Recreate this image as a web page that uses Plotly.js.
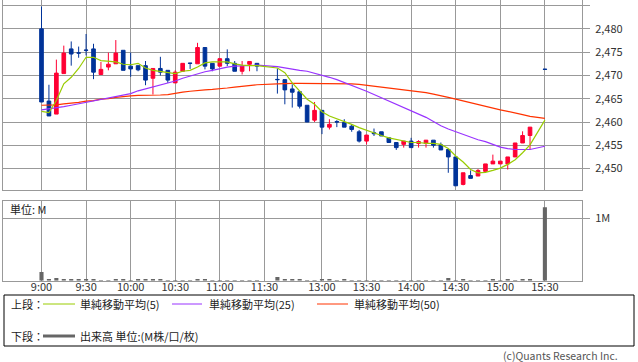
<!DOCTYPE html>
<html><head><meta charset="utf-8">
<script src="https://cdn.plot.ly/plotly-3.0.1.min.js"></script>
<style>html,body{margin:0;padding:0;background:#fff}#chart{width:638px;height:362px}</style>
</head><body><div id="chart"></div>
<script>
// ---- data ----
const times = ["9:00","9:05","9:10","9:15","9:20","9:25","9:30","9:35","9:40","9:45","9:50","9:55",
"10:00","10:05","10:10","10:15","10:20","10:25","10:30","10:35","10:40","10:45","10:50","10:55",
"11:00","11:05","11:10","11:15","11:20","11:25",
"12:30","12:35","12:40","12:45","12:50","12:55","13:00","13:05","13:10","13:15","13:20","13:25",
"13:30","13:35","13:40","13:45","13:50","13:55","14:00","14:05","14:10","14:15","14:20","14:25",
"14:30","14:35","14:40","14:45","14:50","14:55","15:00","15:05","15:10","15:15","15:20","15:30"];
const opens = [2480.0,2464.5,2461.7,2470.4,2475.7,2474.85,2475.45,2475.7,2470.2,2471.8,2472.5,2475.4,
2472.0,2472.1,2472.1,2469.4,2471.5,2471.1,2468.4,2470.9,2472.65,2472.5,2476.0,2472.6,
2472.0,2473.6,2472.6,2470.9,2472.4,2472.6,
2469.15,2469.1,2467.1,2466.5,2463.6,2460.4,2462.5,2458.9,2460.1,2459.9,2459.1,2457.9,
2455.9,2457.7,2457.9,2456.6,2455.6,2455.2,2455.9,2455.4,2455.4,2456.1,2455.1,2454.1,
2452.5,2446.6,2448.5,2448.4,2449.4,2451.0,2451.0,2451.0,2452.5,2455.5,2457.1,2471.35];
const highs = [2484.8,2468.0,2473.4,2476.4,2477.3,2476.2,2478.9,2476.8,2472.9,2474.9,2477.6,2475.4,
2474.9,2472.1,2473.1,2471.5,2474.0,2471.1,2471.1,2472.6,2472.65,2477.0,2476.0,2472.6,
2473.6,2475.6,2473.1,2473.1,2473.0,2472.6,
2471.5,2469.1,2468.1,2466.5,2463.6,2464.3,2462.5,2460.6,2460.4,2460.6,2459.5,2458.3,
2457.2,2458.6,2457.9,2456.6,2455.6,2455.9,2456.6,2456.1,2456.1,2456.1,2455.6,2454.1,
2452.5,2449.1,2449.6,2449.9,2451.0,2453.0,2451.6,2452.5,2455.5,2458.0,2458.9,2471.35];
const lows = [2464.3,2461.3,2461.7,2470.4,2472.1,2473.8,2474.3,2469.2,2470.2,2471.1,2472.5,2471.1,
2469.7,2470.9,2467.9,2465.9,2470.0,2468.4,2468.4,2470.9,2471.4,2472.5,2471.3,2470.9,
2472.0,2472.0,2470.9,2470.2,2470.9,2470.9,
2466.1,2463.8,2463.1,2462.9,2460.0,2460.0,2457.4,2458.4,2458.9,2458.9,2457.9,2455.6,
2455.2,2457.0,2457.0,2455.6,2454.0,2454.5,2454.5,2454.5,2454.5,2454.5,2454.0,2449.1,
2446.3,2446.4,2447.9,2448.4,2449.4,2451.0,2451.0,2449.8,2452.5,2455.5,2454.1,2471.3];
const closes = [2464.3,2461.3,2470.5,2474.8,2474.6,2474.8,2475.4,2470.7,2471.3,2472.4,2474.8,2471.1,
2471.4,2471.2,2469.0,2471.5,2470.7,2469.0,2470.7,2472.6,2472.6,2476.0,2472.0,2471.4,
2473.6,2472.6,2470.9,2472.0,2473.0,2472.0,
2469.1,2466.9,2466.4,2463.4,2460.0,2462.5,2458.9,2459.5,2460.0,2458.9,2458.4,2455.9,
2457.2,2457.5,2457.0,2455.6,2454.5,2455.9,2454.5,2455.8,2456.1,2455.0,2454.0,2452.5,
2446.3,2449.1,2447.9,2449.6,2451.0,2451.6,2451.6,2452.5,2455.5,2457.1,2458.9,2471.3];
const ma5 = [2462.3,2462.0,2464.6,2468.2,2469.6,2471.5,2473.9,2473.9,2473.2,2473.1,2472.9,2472.4,
2472.3,2472.6,2471.6,2471.1,2470.9,2470.6,2470.4,2470.9,2471.1,2471.8,2472.7,2472.9,
2472.9,2472.9,2472.5,2472.2,2472.1,2472.1,
2471.6,2470.6,2468.4,2466.6,2464.9,2463.8,2462.2,2461.3,2460.7,2460.2,2459.5,2458.8,
2458.2,2457.7,2457.1,2456.6,2456.3,2455.9,2455.6,2455.6,2455.4,2455.4,2455.2,2454.3,
2452.7,2451.4,2449.8,2449.1,2449.2,2449.6,2450.1,2450.9,2451.9,2453.4,2455.1,2460.4];
const ma25 = [2462.6,2462.8,2463.0,2463.3,2463.6,2463.9,2464.2,2464.5,2464.8,2465.1,2465.4,2465.7,
2466.1,2466.7,2467.1,2467.5,2467.9,2468.4,2468.8,2469.4,2469.9,2470.4,2470.8,2471.1,
2471.5,2471.8,2472.0,2472.1,2472.2,2472.2,
2471.9,2471.6,2471.4,2471.1,2470.9,2470.5,2470.0,2469.6,2469.1,2468.5,2467.9,2467.2,
2466.6,2465.9,2465.2,2464.6,2463.9,2463.2,2462.5,2461.8,2461.0,2460.1,2459.2,2458.5,
2457.9,2457.3,2456.8,2456.2,2455.8,2455.2,2454.6,2454.3,2454.1,2454.1,2454.1,2454.8];
const ma50 = [2463.6,2463.6,2463.7,2463.9,2464.0,2464.2,2464.5,2464.6,2464.9,2465.0,2465.3,2465.5,
2465.6,2465.7,2465.7,2465.8,2465.8,2465.9,2466.2,2466.4,2466.6,2466.8,2466.9,2467.0,
2467.1,2467.3,2467.5,2467.7,2467.8,2468.0,
2468.2,2468.3,2468.3,2468.3,2468.3,2468.3,2468.3,2468.3,2468.3,2468.3,2468.2,2468.1,
2467.9,2467.8,2467.6,2467.4,2467.2,2467.0,2466.8,2466.6,2466.3,2466.0,2465.7,2465.3,
2464.9,2464.5,2464.1,2463.7,2463.4,2463.0,2462.6,2462.3,2462.0,2461.6,2461.2,2460.8];
const volumes = [0.139,0.027,0.043,0.027,0.027,0.027,0.027,0.027,0.012,0.012,0.027,0.027,
0.012,0.027,0.027,0.027,0.027,0.012,0.012,0.012,0.012,0.027,0.027,0.012,
0.012,0.012,0.012,0.012,0.012,0.012,
0.059,0.027,0.027,0.027,0.012,0.012,0.027,0.027,0.012,0.027,0.012,0.012,
0.012,0.012,0.012,0.012,0.012,0.012,0.012,0.012,0.012,0.012,0.012,0.043,
0.012,0.027,0.012,0.012,0.012,0.027,0.012,0.027,0.012,0.027,0.027,1.176];
const timeTicks = ["9:00","9:30","10:00","10:30","11:00","11:30","13:00","13:30","14:00","14:30","15:00","15:30"];
const priceTicks = [2450,2455,2460,2465,2470,2475,2480,2485];
const volTicks = [1];
const volTickLabels = ["1M"];
const legendLabels = ["単純移動平均(5)","単純移動平均(25)","単純移動平均(50)"];
const volLabel = "出来高 単位:(M株/口/枚)";

// ---- time -> slot position (lunch break compressed) ----
function slot(t){
  const p = t.split(':').map(Number);
  const m = (p[0]-9)*60 + p[1];
  return m <= 150 ? m/5 : m/5 - 10.25;
}
const xs = times.map(slot);
const tickPos = timeTicks.map(slot);

const W = 638, H = 362;
const fx = v => v / W, fy = v => 1 - v / H;
const FONT = "Noto Sans CJK JP, Liberation Sans, sans-serif";
const GRID = "#999999";
const C5 = "#99cc00", C25 = "#9933ff", C50 = "#ff3300";
const xr = [(3-41.5)/7.43, (582-41.5)/7.43];

const traces = [
  {type:'candlestick', x:xs, open:opens, high:highs, low:lows, close:closes,
   xaxis:'x', yaxis:'y', whiskerwidth:0, hoverinfo:'skip', showlegend:false,
   increasing:{line:{color:'#ff0033', width:1}, fillcolor:'#ff0033'},
   decreasing:{line:{color:'#003399', width:1}, fillcolor:'#003399'}},
  {type:'scatter', mode:'lines', x:xs, y:ma50, xaxis:'x', yaxis:'y', line:{color:C50, width:1.2}, showlegend:false, hoverinfo:'skip'},
  {type:'scatter', mode:'lines', x:xs, y:ma25, xaxis:'x', yaxis:'y', line:{color:C25, width:1.2}, showlegend:false, hoverinfo:'skip'},
  {type:'scatter', mode:'lines', x:xs, y:ma5, xaxis:'x', yaxis:'y', line:{color:C5, width:1.2}, showlegend:false, hoverinfo:'skip'},
  {type:'bar', x:xs, y:volumes, xaxis:'x2', yaxis:'y2', width:0.55, marker:{color:'#666666', line:{width:0}}, showlegend:false, hoverinfo:'skip'}
];

const axCommon = {showgrid:true, gridcolor:GRID, gridwidth:1, zeroline:false, showline:true, linecolor:GRID, linewidth:1, mirror:true};
const tickFont = {family:FONT, size:11, color:'#333'};

const layout = {
  width:W, height:H, margin:{l:0,r:0,t:0,b:0}, paper_bgcolor:'#fff', plot_bgcolor:'#fff',
  showlegend:false, font:{family:FONT, size:11, color:'#333'},
  xaxis: Object.assign({}, axCommon, {domain:[fx(3), fx(582)], range:xr, anchor:'y', tickvals:tickPos, showticklabels:false, ticks:'', rangeslider:{visible:false}}),
  yaxis: Object.assign({}, axCommon, {domain:[fy(190), 1], range:[2445.4, 2486.2], anchor:'x', side:'right', tickvals:priceTicks, tickformat:',d', ticks:'outside', ticklen:7, tickcolor:GRID, ticklabelstandoff:3, tickfont:tickFont}),
  xaxis2: Object.assign({}, axCommon, {domain:[fx(3), fx(582)], range:xr, anchor:'y2', tickvals:tickPos, ticktext:timeTicks, ticks:'', ticklabelstandoff:-4, tickfont:tickFont, rangeslider:{visible:false}}),
  yaxis2: Object.assign({}, axCommon, {domain:[fy(280.7), fy(201)], range:[0, 1.277], anchor:'x2', side:'right', tickvals:volTicks, ticktext:volTickLabels, ticks:'outside', ticklen:7, tickcolor:GRID, ticklabelstandoff:3, tickfont:tickFont}),
  shapes: [
    {type:'rect', xref:'paper', yref:'paper', x0:fx(4), x1:fx(634), y0:fy(295), y1:fy(346), line:{color:'#000', width:1}},
    {type:'line', xref:'paper', yref:'paper', x0:fx(43), x1:fx(75), y0:fy(304), y1:fy(304), line:{color:C5, width:1}},
    {type:'line', xref:'paper', yref:'paper', x0:fx(172), x1:fx(202), y0:fy(304), y1:fy(304), line:{color:C25, width:1}},
    {type:'line', xref:'paper', yref:'paper', x0:fx(317), x1:fx(348), y0:fy(304), y1:fy(304), line:{color:C50, width:1}},
    {type:'line', xref:'paper', yref:'paper', x0:fx(43), x1:fx(75), y0:fy(336), y1:fy(336), line:{color:'#666', width:3}}
  ],
  annotations: [
    {text:'単位: M', xref:'paper', yref:'paper', x:fx(8), y:fy(209), xanchor:'left', yanchor:'middle', showarrow:false, font:{family:FONT, size:11, color:'#222'}},
    {text:'上段：', xref:'paper', yref:'paper', x:fx(9), y:fy(304), xanchor:'left', yanchor:'middle', showarrow:false, font:{family:FONT, size:11, color:'#222'}},
    {text:legendLabels[0], xref:'paper', yref:'paper', x:fx(78), y:fy(304), xanchor:'left', yanchor:'middle', showarrow:false, font:{family:FONT, size:11, color:'#222'}},
    {text:legendLabels[1], xref:'paper', yref:'paper', x:fx(207), y:fy(304), xanchor:'left', yanchor:'middle', showarrow:false, font:{family:FONT, size:11, color:'#222'}},
    {text:legendLabels[2], xref:'paper', yref:'paper', x:fx(352), y:fy(304), xanchor:'left', yanchor:'middle', showarrow:false, font:{family:FONT, size:11, color:'#222'}},
    {text:'下段：', xref:'paper', yref:'paper', x:fx(9), y:fy(336), xanchor:'left', yanchor:'middle', showarrow:false, font:{family:FONT, size:11, color:'#222'}},
    {text:volLabel, xref:'paper', yref:'paper', x:fx(78), y:fy(336), xanchor:'left', yanchor:'middle', showarrow:false, font:{family:FONT, size:11, color:'#222'}},
    {text:'(c)Quants Research Inc.', xref:'paper', yref:'paper', x:fx(620), y:fy(355), xanchor:'right', yanchor:'middle', showarrow:false, font:{family:FONT, size:10.5, color:'#555'}}
  ]
};

Plotly.newPlot('chart', traces, layout, {staticPlot:true, displayModeBar:false});
</script></body></html>
